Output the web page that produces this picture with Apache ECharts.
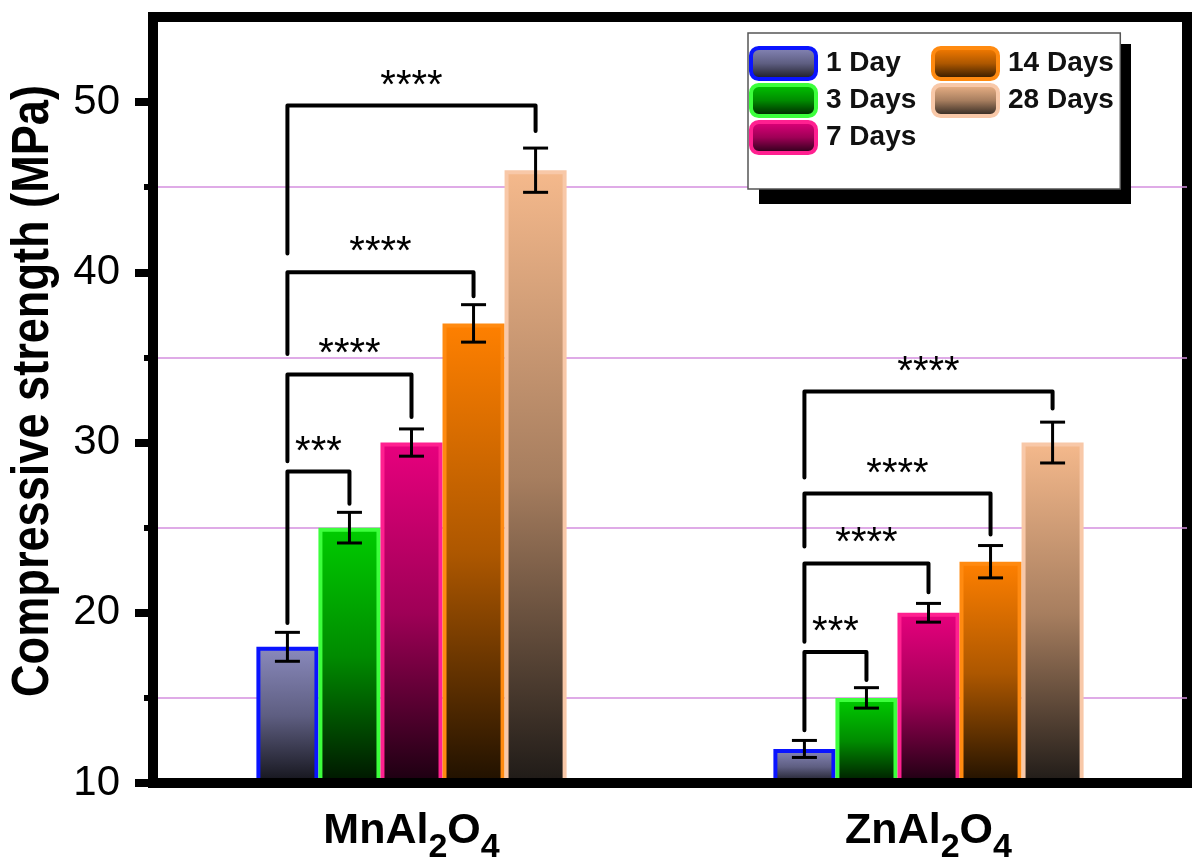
<!DOCTYPE html>
<html>
<head>
<meta charset="utf-8">
<script src="https://cdn.jsdelivr.net/npm/echarts@6/dist/echarts.min.js"></script>
<style>
  html, body { margin: 0; padding: 0; background: #fff; }
  #chart { width: 1195px; height: 862px; }
</style>
</head>
<body>
<div id="chart"></div>
<script>
// Compressive strength of aluminate cements by curing age
const categories = ['MnAl2O4', 'ZnAl2O4'];
const seriesNames = ['1 Day', '3 Days', '7 Days', '14 Days', '28 Days'];
const legendColumnA = ['1 Day', '3 Days', '7 Days'];
const legendColumnB = ['14 Days', '28 Days'];
const yTitle = 'Compressive strength (MPa)';

const strength1Day   = [18, 12];
const strength3Days  = [25, 15];
const strength7Days  = [30, 20];
const strength14Days = [37, 23];
const strength28Days = [46, 30];

const sd1Day   = [0.85, 0.5];
const sd3Days  = [0.9, 0.6];
const sd7Days  = [0.8, 0.55];
const sd14Days = [1.1, 0.95];
const sd28Days = [1.3, 1.2];

const yTicks = [10, 20, 30, 40, 50];
const yMinorTicks = [15, 25, 35, 45];

// significance brackets: [category, fromBar, toBar, topValue, leftFootValue, rightFootValue]
const brackets = [
  [0, 0, 1, 28.3, 19.4, 26.4],
  [0, 0, 2, 34.0, 28.9, 31.5],
  [0, 0, 3, 40.0, 35.2, 38.6],
  [0, 0, 4, 49.8, 41.1, 48.3],
  [1, 0, 1, 17.7, 13.1, 16.05],
  [1, 0, 2, 22.9, 18.3, 21.2],
  [1, 0, 3, 27.0, 23.9, 24.6],
  [1, 0, 4, 33.0, 27.95, 32.0]
];
const bracketLabels = ['***', '****', '****', '****', '***', '****', '****', '****'];

const strengths = [strength1Day, strength3Days, strength7Days, strength14Days, strength28Days];
const deviations = [sd1Day, sd3Days, sd7Days, sd14Days, sd28Days];

const topColors    = ['#8a8abd', '#00cc00', '#e8007e', '#ff8000', '#f5b98c'];
const bottomColors = ['#121218', '#001400', '#1a0010', '#1e1000', '#1e1a17'];
const borderColors = ['#0a14ff', '#3cff3c', '#ff2090', '#ff8a10', '#f8c8a8'];

const FONT = "'Liberation Sans', Arial, Helvetica, sans-serif";
const BAR_FRACTION = 0.12;   // bar width as share of the category band

function shade(hex, k) {
  const n = parseInt(hex.slice(1), 16);
  const r = Math.round(((n >> 16) & 255) * k);
  const g = Math.round(((n >> 8) & 255) * k);
  const b = Math.round((n & 255) * k);
  return 'rgb(' + r + ',' + g + ',' + b + ')';
}
function barFill(top, bottom) {
  return new echarts.graphic.LinearGradient(0, 0, 0, 1, [
    { offset: 0, color: top },
    { offset: 0.5, color: shade(top, 0.68) },
    { offset: 1, color: bottom }
  ]);
}

// offset of bar s from the category centre, in px
function barOffset(api, s) {
  const band = api.size([1, 0])[0];
  return (s - (seriesNames.length - 1) / 2) * band * BAR_FRACTION;
}

const errorData = [];
strengths.forEach((vals, s) => {
  vals.forEach((v, c) => {
    errorData.push([c, s, v - deviations[s][c], v + deviations[s][c]]);
  });
});

function renderErrorBar(params, api) {
  const c = api.value(0), s = api.value(1);
  const lo = api.coord([c, api.value(2)]);
  const hi = api.coord([c, api.value(3)]);
  const x = lo[0] + barOffset(api, s);
  const half = 12.5;
  const st = { stroke: '#000', lineWidth: 3 };
  return {
    type: 'group',
    children: [
      { type: 'line', shape: { x1: x, y1: hi[1], x2: x, y2: lo[1] }, style: st },
      { type: 'line', shape: { x1: x - half, y1: hi[1], x2: x + half, y2: hi[1] }, style: st },
      { type: 'line', shape: { x1: x - half, y1: lo[1], x2: x + half, y2: lo[1] }, style: st }
    ]
  };
}

function renderBracket(params, api) {
  const c = api.value(0);
  const cx = api.coord([c, 10])[0];
  const xL = cx + barOffset(api, api.value(1));
  const xR = cx + barOffset(api, api.value(2));
  const yTop = api.coord([c, api.value(3)])[1];
  const yL = api.coord([c, api.value(4)])[1];
  const yR = api.coord([c, api.value(5)])[1];
  return {
    type: 'group',
    children: [
      {
        type: 'polyline',
        shape: { points: [[xL, yL], [xL, yTop], [xR, yTop], [xR, yR]] },
        style: { stroke: '#000', fill: null, lineWidth: 4, lineCap: 'round', lineJoin: 'round' }
      },
      {
        type: 'text',
        x: (xL + xR) / 2,
        y: yTop - 19,
        style: {
          text: bracketLabels[params.dataIndex],
          fontSize: 40, fontFamily: FONT, fill: '#000',
          align: 'center', verticalAlign: 'middle'
        }
      }
    ]
  };
}

function formulaLabel(v) {
  return v.split(/(\d+)/).filter(t => t.length).map(t =>
    /^\d+$/.test(t) ? '{s|' + t + '}' : '{m|' + t + '}'
  ).join('');
}

const barSeries = seriesNames.map((name, i) => ({
  type: 'bar',
  name: name,
  data: strengths[i],
  barWidth: (BAR_FRACTION * 100) + '%',
  barGap: '0%',
  itemStyle: {
    color: barFill(topColors[i], bottomColors[i]),
    borderColor: borderColors[i],
    borderWidth: 4
  }
}));

const legendCommon = {
  orient: 'vertical',
  top: 33,
  height: 125,
  itemWidth: 65, itemHeight: 31, itemGap: 2,
  icon: 'roundRect',
  itemStyle: { borderWidth: 4 },
  textStyle: {
    fontSize: 28, fontWeight: 'bold', fontFamily: FONT, color: '#111',
    padding: [0, 0, 0, 5]
  }
};

const chart = echarts.init(document.getElementById('chart'), null, { renderer: 'canvas' });
chart.setOption({
  backgroundColor: '#fff',
  animation: false,
  grid: {
    left: 153, right: 8, top: 17, bottom: 79,
    show: true, borderColor: '#000', borderWidth: 10, backgroundColor: 'transparent',
    outerBoundsMode: 'none'
  },
  graphic: [
    {
      // y-axis title, set in a condensed bold face
      type: 'text',
      x: 34, y: 391,
      rotation: Math.PI / 2,
      scaleX: 0.885,
      style: {
        text: yTitle,
        fontSize: 51, fontWeight: 'bold', fontFamily: FONT, fill: '#000',
        align: 'center', verticalAlign: 'middle'
      }
    },
    {
      // drop shadow behind the legend box
      type: 'rect',
      z: 3,
      shape: { x: 759, y: 44, width: 372, height: 160 },
      style: { fill: '#000' }
    }
  ],
  legend: [
    Object.assign({}, legendCommon, {
      data: legendColumnA,
      left: 748,
      z: 4,
      padding: [13, 204, 34, 1],
      backgroundColor: '#fff',
      borderColor: '#555', borderWidth: 1.5
    }),
    Object.assign({}, legendCommon, {
      data: legendColumnB,
      left: 930,
      z: 5,
      padding: [13, 0, 0, 1]
    })
  ],
  xAxis: {
    type: 'category',
    data: categories,
    z: 10,
    axisLine: { lineStyle: { color: '#000', width: 10 } },
    axisTick: { alignWithLabel: true, length: 19, lineStyle: { color: '#000', width: 8 } },
    axisLabel: {
      margin: 27,
      formatter: formulaLabel,
      rich: {
        m: { fontSize: 43, fontWeight: 'bold', fontFamily: FONT, color: '#000', lineHeight: 50, verticalAlign: 'top' },
        s: { fontSize: 34, fontWeight: 'bold', fontFamily: FONT, color: '#000', lineHeight: 34, verticalAlign: 'top', padding: [21, 0, 0, 0] }
      }
    },
    splitLine: { show: false }
  },
  yAxis: [
    {
      type: 'value', min: 10, max: 55, interval: 10,
      axisLine: { show: true, lineStyle: { color: '#000', width: 10 } },
      axisTick: { show: true, customValues: yTicks, length: 18, lineStyle: { color: '#000', width: 8 } },
      axisLabel: { customValues: yTicks, margin: 33, fontSize: 42, fontFamily: FONT, color: '#000' },
      splitLine: { show: false }
    },
    {
      type: 'value', min: 10, max: 55, interval: 10, position: 'left',
      axisLine: { show: false },
      axisTick: { show: true, customValues: yMinorTicks, length: 9, lineStyle: { color: '#000', width: 6 } },
      axisLabel: { show: false },
      splitLine: { show: true, lineStyle: { color: ['#d58fdf'], width: 1.5 } }
    }
  ],
  series: barSeries.concat([
    {
      type: 'custom', name: 'sd', z: 4, silent: true,
      renderItem: renderErrorBar,
      encode: { x: 0, y: [2, 3] },
      data: errorData
    },
    {
      type: 'custom', name: 'significance', z: 4, silent: true, clip: false,
      renderItem: renderBracket,
      encode: { x: 0, y: [3, 4, 5] },
      data: brackets
    }
  ])
});
</script>
</body>
</html>
